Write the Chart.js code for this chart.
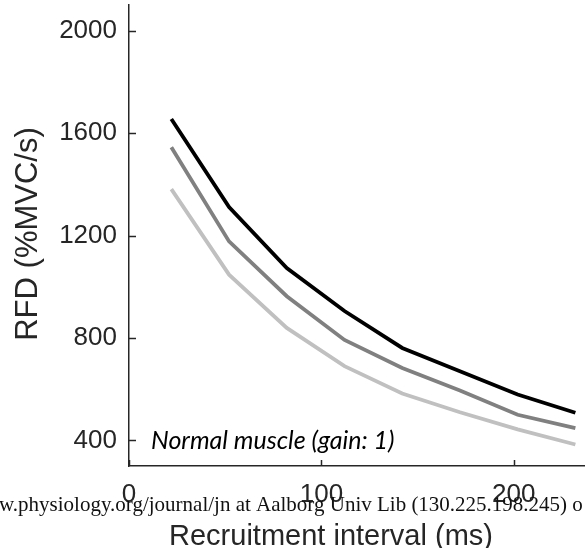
<!DOCTYPE html>
<html>
<head>
<meta charset="utf-8">
<script src="https://cdn.jsdelivr.net/npm/chart.js@4"></script>
<style>
html,body{margin:0;padding:0;background:#fff;}
#wrap{width:585px;height:548px;position:relative;}
</style>
</head>
<body>
<div id="wrap"><canvas id="c" width="585" height="548"></canvas></div>
<script>
const intervals = [22, 52, 82, 112, 142, 172, 202, 232];
const rfdBlack = [1655, 1311, 1073, 905, 761, 670, 579, 508];
const rfdGray  = [1545, 1177, 963, 792, 683, 595, 500, 448];
const rfdLight = [1381, 1047, 839, 690, 583, 510, 443, 384];
const yTicks = [400, 800, 1200, 1600, 2000];
const xTicks = [0, 100, 200];
const xTitle = "Recruitment interval (ms)";
const yTitle = "RFD (%MVC/s)";
const annotation = "Normal muscle (gain: 1)";
const watermark = "w.physiology.org/journal/jn at Aalborg Univ Lib (130.225.198.245) o";

function pts(ys){ return intervals.map((x,i)=>({x:x, y:ys[i]})); }

const axisColor = '#262626';
const sansFont = '"Liberation Sans", Arial, sans-serif';

const extras = {
  id:'extras',
  afterDraw(chart){
    const ctx = chart.ctx;
    const xs = chart.scales.x, ys = chart.scales.y;
    ctx.save();
    ctx.strokeStyle = axisColor;
    ctx.lineWidth = 1.5;
    // inward tick marks
    yTicks.forEach(v=>{
      const py = Math.round(ys.getPixelForValue(v))+0.5;
      ctx.beginPath(); ctx.moveTo(xs.left, py); ctx.lineTo(xs.left+7, py); ctx.stroke();
    });
    xTicks.forEach(v=>{
      const px = Math.round(xs.getPixelForValue(v))+0.5;
      ctx.beginPath(); ctx.moveTo(px, ys.bottom); ctx.lineTo(px, ys.bottom-6); ctx.stroke();
    });
    // x tick labels
    ctx.fillStyle = axisColor;
    ctx.font = '26px ' + sansFont;
    ctx.textAlign = 'center';
    ctx.textBaseline = 'alphabetic';
    xTicks.forEach(v=>{
      ctx.fillText(String(v), xs.getPixelForValue(v), 502);
    });
    // annotation
    ctx.fillStyle = '#000';
    ctx.font = 'italic 25px Lato, "Open Sans", sans-serif';
    ctx.textAlign = 'left';
    ctx.fillText(annotation, xs.left + 22, 449);
    // watermark
    ctx.font = '21px "Liberation Serif", "DejaVu Serif", serif';
    ctx.fillStyle = '#111';
    ctx.fillText(watermark, -1, 511);
    // x title
    ctx.fillStyle = axisColor;
    ctx.font = '29px ' + sansFont;
    ctx.textAlign = 'center';
    ctx.fillText(xTitle, 331, 545);
    // y title
    ctx.translate(37, 234);
    ctx.rotate(-Math.PI/2);
    ctx.font = '31px ' + sansFont;
    ctx.fillText(yTitle, 0, 0);
    ctx.restore();
  }
};

new Chart(document.getElementById('c'), {
  type:'line',
  data:{
    datasets:[
      {data:pts(rfdBlack), borderColor:'#000000', borderWidth:3.8, pointRadius:0, tension:0, fill:false},
      {data:pts(rfdGray), borderColor:'#808080', borderWidth:3.8, pointRadius:0, tension:0, fill:false},
      {data:pts(rfdLight), borderColor:'#c0c0c0', borderWidth:3.8, pointRadius:0, tension:0, fill:false}
    ]
  },
  options:{
    responsive:false,
    animation:false,
    layout:{padding:{top:5, right:0, left:0, bottom:0}},
    plugins:{legend:{display:false}, tooltip:{enabled:false}},
    scales:{
      x:{
        type:'linear', min:0, max:237,
        afterBuildTicks(s){ s.ticks = xTicks.map(v=>({value:v})); },
        afterFit(s){ s.height = 82; s.paddingLeft = 0; s.paddingRight = 0; },
        grid:{display:true, drawOnChartArea:false, drawTicks:false},
        border:{display:true, color:axisColor, width:1.5},
        ticks:{display:false},
        title:{display:false}
      },
      y:{
        type:'linear', min:300, max:2100,
        afterBuildTicks(s){ s.ticks = yTicks.map(v=>({value:v})); },
        afterFit(s){ s.width = 129; s.paddingTop = 0; s.paddingBottom = 0; },
        grid:{display:true, drawOnChartArea:false, drawTicks:false},
        border:{display:true, color:axisColor, width:1.5},
        ticks:{color:axisColor, font:{family:sansFont, size:26}, padding:12, callback:(v)=>String(v)},
        title:{display:false}
      }
    }
  },
  plugins:[extras]
});
</script>
</body>
</html>
